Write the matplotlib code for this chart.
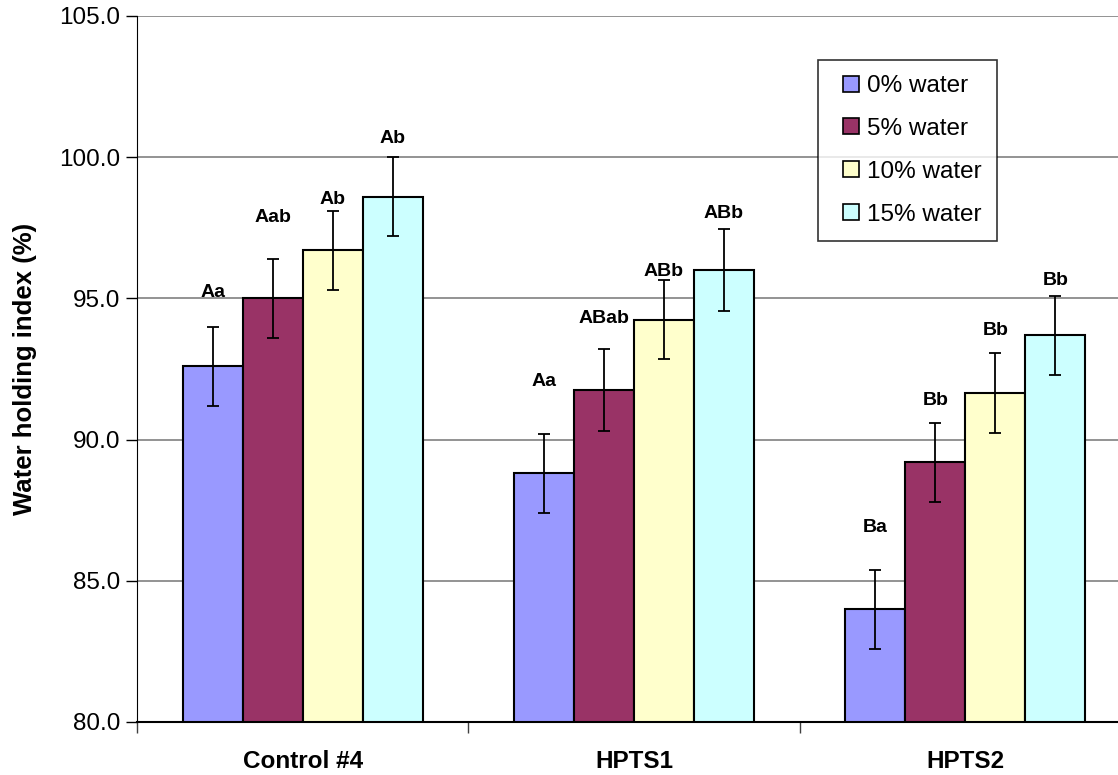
import matplotlib
matplotlib.use("Agg")
import matplotlib.pyplot as plt
import numpy as np
from matplotlib.lines import Line2D

plt.rcParams['font.family'] = ['Liberation Sans', 'DejaVu Sans']

categories = ["Control #4", "HPTS1", "HPTS2"]
series_names = ["0% water", "5% water", "10% water", "15% water"]
values = {
    "0% water": [92.6, 88.8, 84.0],
    "5% water": [95.0, 91.75, 89.2],
    "10% water": [96.7, 94.25, 91.65],
    "15% water": [98.6, 96.0, 93.7],
}
errors = {
    "0% water": [1.4, 1.4, 1.4],
    "5% water": [1.4, 1.45, 1.4],
    "10% water": [1.4, 1.4, 1.4],
    "15% water": [1.4, 1.45, 1.4],
}
letters = {
    "0% water": ["Aa", "Aa", "Ba"],
    "5% water": ["Aab", "ABab", "Bb"],
    "10% water": ["Ab", "ABb", "Bb"],
    "15% water": ["Ab", "ABb", "Bb"],
}
letter_y = {
    "0% water": [95.2, 92.05, 86.9],
    "5% water": [97.85, 94.3, 91.4],
    "10% water": [98.5, 95.95, 93.88],
    "15% water": [100.65, 98.0, 95.65],
}
colors = ["#9999FF", "#993366", "#FFFFCC", "#CCFFFF"]

fig = plt.figure(figsize=(11.18, 7.75), dpi=100)
ax = fig.add_axes([137/1118, 53/775, 994/1118, 706/775])

x = np.arange(len(categories))
w = 0.181
for i, s in enumerate(series_names):
    xs = x + (i - 1.5) * w
    ax.bar(xs, np.array(values[s]) - 80, bottom=80, width=w, color=colors[i],
           edgecolor="black", linewidth=1.5, zorder=3)
    ax.errorbar(xs, values[s], yerr=errors[s], fmt="none", ecolor="black",
                elinewidth=1.3, capsize=4, capthick=1.3, zorder=4)
    for xi, lab, ly in zip(xs, letters[s], letter_y[s]):
        ax.text(xi, ly, lab, ha="center", va="center", fontsize=14,
                fontweight="bold", zorder=5)

ax.set_xlim(-0.5, 2.5)
ax.set_ylim(80, 105)
ax.set_yticks(np.arange(80, 105.1, 5))
ax.set_yticklabels([f"{v:.1f}" for v in np.arange(80, 105.1, 5)], fontsize=17.5)
ax.yaxis.grid(True, color="#808080", linewidth=1.2, zorder=0)
ax.set_axisbelow(True)

ax.set_xticks([-0.5, 0.5, 1.5, 2.5])
ax.set_xticklabels([])
ax.tick_params(axis="x", which="major", length=8, width=1, color="#404040")
ax.set_xticks(x, minor=True)
ax.set_xticklabels(categories, minor=True, fontsize=17.5, fontweight="bold")
ax.tick_params(axis="x", which="minor", length=0, pad=20)
ax.tick_params(axis="y", length=8, width=1, pad=4)

for sp in ["top", "right"]:
    ax.spines[sp].set_visible(False)
ax.spines["left"].set_color("black")
ax.spines["bottom"].set_color("black")
ax.spines["bottom"].set_linewidth(1.5)

ax.set_ylabel("Water holding index (%)", fontsize=18.5, fontweight="bold", labelpad=16)

handles = [Line2D([], [], linestyle="none", marker="s", markersize=11.5,
                  markerfacecolor=c, markeredgecolor="black", markeredgewidth=1.2)
           for c in colors]
leg = ax.legend(handles, series_names, loc="upper left",
                bbox_to_anchor=((818 - 137) / 994, (722 - 60) / 706),
                fontsize=17.5, frameon=True, fancybox=False, edgecolor="black",
                handlelength=1.45, handletextpad=-0.05,
                labelspacing=0.86, borderpad=0.62, borderaxespad=0)
leg.get_frame().set_linewidth(1.2)

fig.savefig("out.png", dpi=100)
